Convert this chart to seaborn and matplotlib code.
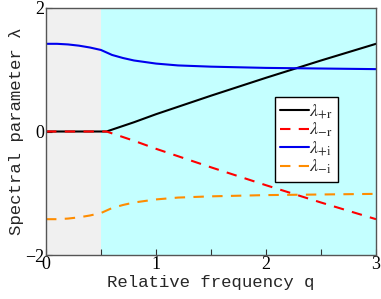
import numpy as np
import pandas as pd
import matplotlib
matplotlib.use("Agg")
import matplotlib.pyplot as plt
import seaborn as sns

q = [0, 0.1, 0.2, 0.3, 0.4, 0.5, 0.55, 0.6, 0.7, 0.8, 1.0, 1.2, 1.5, 2.0, 2.5, 3.0]
lam_plus_r = [0, 0, 0, 0, 0, 0, 0, 0.03, 0.09, 0.15, 0.28, 0.40, 0.58, 0.87, 1.15, 1.42]
lam_minus_r = [-v for v in lam_plus_r]
lam_plus_i = [1.42, 1.42, 1.41, 1.39, 1.36, 1.32, 1.28, 1.24, 1.19, 1.15, 1.10, 1.07, 1.05, 1.03, 1.02, 1.01]
lam_minus_i = [-v for v in lam_plus_i]

sns.set_theme(style="ticks")
plt.rcParams['font.family'] = ['Liberation Serif', 'DejaVu Serif']
plt.rcParams['mathtext.fontset'] = 'stix'

fig = plt.figure(figsize=(3.81, 2.99), dpi=100)
ax = fig.add_axes([46/381, 1 - 255/299, 330/381, 247/299])

ax.axvspan(0, 0.5, color='#f0f0f0', zorder=0, lw=0)
ax.axvspan(0.5, 3, color='#c4ffff', zorder=0, lw=0)

df = pd.DataFrame({'q': q, 'pr': lam_plus_r, 'mr': lam_minus_r, 'pi': lam_plus_i, 'mi': lam_minus_i})
sns.lineplot(data=df, x='q', y='pr', ax=ax, color='black', lw=1.5, label=r'$\lambda_{+\mathrm{r}}$')
sns.lineplot(data=df, x='q', y='mr', ax=ax, color='red', lw=1.5, dashes=(5, 4), label=r'$\lambda_{-\mathrm{r}}$')
sns.lineplot(data=df, x='q', y='pi', ax=ax, color='#0000ee', lw=1.5, label=r'$\lambda_{+\mathrm{i}}$')
sns.lineplot(data=df, x='q', y='mi', ax=ax, color='#ff8c00', lw=1.5, dashes=(5, 4), label=r'$\lambda_{-\mathrm{i}}$')

ax.set_xlim(0, 3)
ax.set_ylim(-2, 2)
ax.set_xticks([0, 0.5, 1, 1.5, 2, 2.5, 3])
ax.set_xticklabels(['0', '', '1', '', '2', '', '3'])
ax.set_yticks([-2, 0, 2])
ax.set_yticklabels(['\u22122', '0', '2'])
ax.tick_params(direction='in', length=4, width=0.8, labelsize=13, colors='#333333', labelcolor='black', pad=1)
for s in ax.spines.values():
    s.set_color('#555555')
    s.set_linewidth(1.0)

ax.set_xlabel('Relative frequency q', fontfamily='Liberation Mono', fontsize=12.5, labelpad=1)
ax.set_ylabel('Spectral parameter \u03bb', fontfamily='Liberation Mono', fontsize=12.5, labelpad=1)

leg = ax.legend(loc='upper left', bbox_to_anchor=(229/330, 1 - 89/247), frameon=True, fancybox=False,
                edgecolor='black', facecolor='white', framealpha=1, fontsize=13,
                handlelength=1.6, handletextpad=0.0, labelspacing=0.0, borderpad=0.3, borderaxespad=0)
leg.get_frame().set_linewidth(1.0)

fig.savefig('out.png', dpi=100)
